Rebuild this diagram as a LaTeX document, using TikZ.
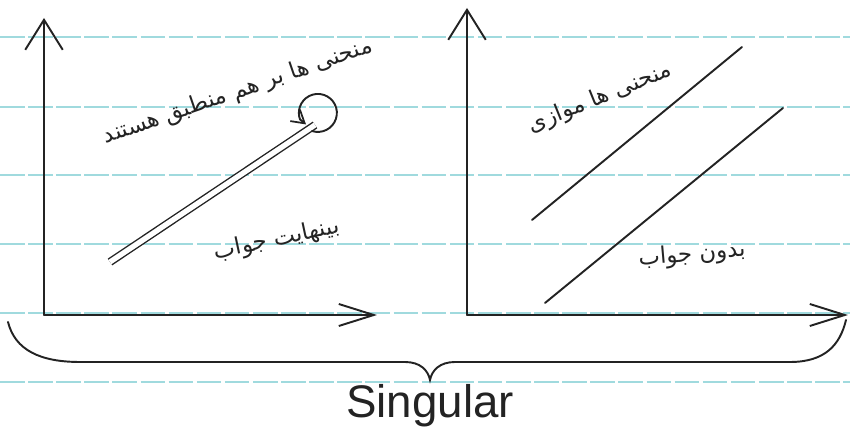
\documentclass[tikz,border=0pt]{standalone}
\usepackage{fontspec}
\setmainfont{Liberation Sans}
\newfontfamily\farsifont[Script=Arabic]{DejaVu Sans}
\TeXXeTstate=1
\usetikzlibrary{arrows.meta}
\definecolor{penblack}{RGB}{35,35,35}
\definecolor{ruleline}{RGB}{160,218,222}

\begin{document}
\begin{tikzpicture}[x=0.02cm, y=-0.02cm,
  pen/.style={draw=penblack, line width=1.1pt, line cap=round},
  yaxis/.style={pen, -{Straight Barb[length=6mm, width=7.5mm, line width=1.1pt]}},
  xaxis/.style={pen, -{Straight Barb[length=7mm, width=4.4mm, line width=1.1pt]}},
  farsi/.style={font={\farsifont\fontsize{13}{15}\selectfont}, text=penblack, inner sep=0pt},
  ruled/.style={draw=ruleline, line width=0.7pt, dash pattern=on 14pt off 2pt}
]
  \useasboundingbox (0,0) rectangle (850,435);
  % ruled paper
  \foreach \yy in {37,107,175,244,313,382}
    \draw[ruled] (0,\yy) -- (850,\yy);

  % left plot: coincident curves
  \coordinate (o1) at (44,315);
  \coordinate (y1) at (44,18);
  \coordinate (x1) at (377,315);
  \draw[yaxis] (o1) -- (y1);
  \draw[xaxis] (o1) -- (x1);
  \coordinate (c1s) at (110,262);
  \coordinate (c1e) at (315,125);
  \draw[pen, line cap=butt, line width=0.8pt, double, double distance=3pt] (c1s) -- (c1e);
  \coordinate (loop) at (312,131);
  \draw[pen, -{Straight Barb[length=2.5mm, width=3mm, line width=1pt]}]
    (loop) arc[start angle=108, end angle=-200, radius=19] -- ++(6,5);
  \node[farsi, rotate=19] (same) at (238,92) {\beginR منحنی ها بر هم منطبق هستند\endR};
  \node[farsi, rotate=12] (inf) at (277,240) {\beginR بینهایت جواب\endR};

  % right plot: parallel curves
  \coordinate (o2) at (467,315);
  \coordinate (y2) at (467,8);
  \coordinate (x2) at (848,315);
  \draw[yaxis] (o2) -- (y2);
  \draw[xaxis] (o2) -- (x2);
  \coordinate (p1s) at (532,220);
  \coordinate (p1e) at (742,47);
  \coordinate (p2s) at (545,303);
  \coordinate (p2e) at (783,108);
  \draw[pen] (p1s) -- (p1e);
  \draw[pen] (p2s) -- (p2e);
  \node[farsi, rotate=22] (par) at (600,98) {\beginR منحنی ها موازی\endR};
  \node[farsi, rotate=5] (none) at (692,255) {\beginR بدون جواب\endR};

  % brace
  \coordinate (bl) at (8,322);
  \coordinate (br) at (846,320);
  \coordinate (tip) at (430,380);
  \draw[pen] (bl) .. controls (15,350) and (40,362) .. (80,362) -- (405,362)
    .. controls (420,362) and (428,370) .. (tip)
    .. controls (432,370) and (440,362) .. (455,362) -- (790,362)
    .. controls (825,362) and (840,345) .. (br);
  \node[font=\fontsize{26}{30}\selectfont, text=penblack] (sing) at (430,406) {Singular};
\end{tikzpicture}
\end{document}
